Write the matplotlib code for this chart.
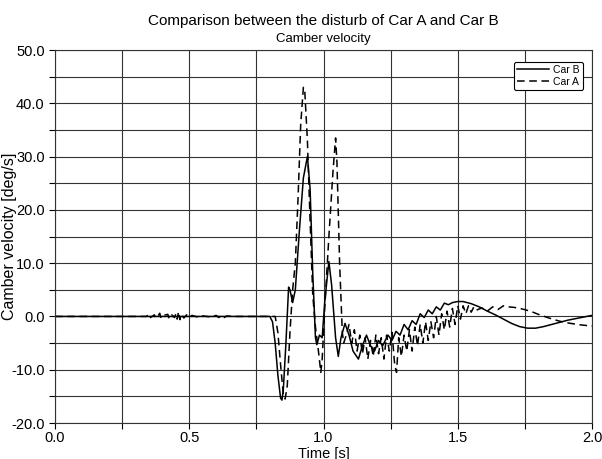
import matplotlib
matplotlib.use("Agg")
import matplotlib.pyplot as plt
from matplotlib.ticker import MultipleLocator, FormatStrFormatter

plt.rcParams["font.family"] = ["Liberation Sans", "DejaVu Sans"]

# Car B (solid)
t_b = [0.0, 0.80, 0.81, 0.82, 0.83, 0.84, 0.845, 0.85, 0.86, 0.87, 0.875, 0.885,
       0.895, 0.91, 0.925, 0.94, 0.95, 0.96, 0.97, 0.975, 0.985, 0.995, 1.005,
       1.02, 1.03, 1.045, 1.055, 1.065, 1.08, 1.095, 1.11, 1.13, 1.145, 1.16,
       1.175, 1.19, 1.205, 1.22, 1.24, 1.255, 1.27, 1.285, 1.30, 1.315, 1.33,
       1.345, 1.36, 1.375, 1.39, 1.405, 1.42, 1.435, 1.45, 1.465, 1.48, 1.50,
       1.52, 1.55, 1.58, 1.61, 1.64, 1.67, 1.70, 1.73, 1.76, 1.79, 1.82, 1.85,
       1.88, 1.91, 1.94, 1.97, 2.0]
v_b = [0.0, 0.0, -1.0, -5.0, -11.0, -15.3, -15.7, -14.0, -5.0, 5.5, 5.0, 2.6,
       5.0, 16.0, 26.0, 30.0, 24.0, 8.0, -4.0, -5.3, -3.5, -4.0, 3.0,
       10.3, 6.0, -4.0, -7.5, -4.0, -1.3, -3.5, -6.5, -8.0, -5.5, -3.5,
       -5.5, -6.5, -4.5, -5.5, -3.5, -4.5, -2.8, -3.5, -1.5, -2.5, -0.8,
       -1.5, 0.5, -0.2, 1.2, 0.5, 1.8, 1.2, 2.5, 2.2, 2.6, 2.8,
       2.8, 2.4, 1.8, 1.0, 0.3, -0.5, -1.3, -1.9, -2.2, -2.2, -1.9, -1.5,
       -1.1, -0.7, -0.4, -0.1, 0.2]

# Car A (dashed)
t_a = [0.0, 0.34, 0.35, 0.355, 0.37, 0.375, 0.385, 0.39, 0.395, 0.405, 0.42,
       0.425, 0.435, 0.445, 0.45, 0.455, 0.46, 0.465, 0.47, 0.48, 0.49, 0.50,
       0.51, 0.53, 0.55, 0.58, 0.60, 0.61, 0.62, 0.63, 0.64, 0.66, 0.82, 0.83,
       0.84, 0.85, 0.857, 0.865, 0.875, 0.885, 0.895, 0.905, 0.915, 0.925,
       0.93, 0.94, 0.95, 0.96, 0.97, 0.98, 0.99, 0.995, 1.005, 1.02, 1.035,
       1.045, 1.05, 1.06, 1.07, 1.075, 1.085, 1.095,
       1.105, 1.115, 1.125, 1.135, 1.145, 1.155, 1.165, 1.175, 1.185, 1.195,
       1.205, 1.215, 1.225, 1.235, 1.245, 1.255, 1.265, 1.272, 1.28, 1.29,
       1.30, 1.31, 1.32, 1.33, 1.34, 1.35, 1.36, 1.37, 1.38, 1.39, 1.40,
       1.41, 1.42, 1.43, 1.44, 1.45, 1.46, 1.47, 1.48, 1.49, 1.50, 1.51,
       1.52, 1.53, 1.54, 1.55, 1.56, 1.57, 1.59, 1.61, 1.63, 1.65, 1.67,
       1.69, 1.71, 1.74, 1.77, 1.80, 1.84, 1.88, 1.92, 1.96, 2.0]
v_a = [0.0, 0.0, 0.4, -0.2, 0.3, -0.3, 0.2, 0.6, -0.3, 0.2, 0.4,
       -0.4, 0.3, -0.2, 0.5, -0.5, 0.9, -0.6, 0.4, -0.3, 0.3, -0.2,
       0.2, -0.1, 0.1, -0.1, 0.2, -0.2, 0.2, -0.2, 0.1, 0.0, 0.0, -3.0,
       -9.0, -14.5, -15.5, -13.0, -3.0, 5.0, 10.0, 22.0, 36.0, 43.0,
       42.5, 33.0, 18.0, 4.0, -2.0, -6.0, -10.5, -8.0, 2.0, 15.0, 27.0,
       33.5, 29.0, 10.0, -3.0, -5.0, -3.5, -1.5,
       -5.0, -2.5, -6.5, -3.5, -7.0, -4.0, -8.0, -4.5, -7.5, -3.5,
       -7.0, -4.0, -8.0, -3.5, -6.5, -3.0, -9.0, -10.5, -4.0, -7.5,
       -3.5, -6.5, -2.5, -6.5, -2.0, -5.5, -1.5, -5.0, -1.0, -4.5, -1.0,
       -4.0, 0.0, -3.5, 0.5, -2.5, 1.0, -2.0, 1.5, -1.5, 2.0, -0.5,
       2.0, 0.5, 2.0, 0.8, 1.8, 1.2, 1.6, 1.0, 1.8, 1.3, 2.0,
       1.8, 1.7, 1.4, 1.0, 0.4, -0.3, -0.9, -1.3, -1.6, -1.8]

fig = plt.figure(figsize=(6.02, 4.59), dpi=100)
ax = fig.add_axes([0.0914, 0.0784, 0.892, 0.8126])

ax.plot(t_b, v_b, color="black", lw=1.1, label="Car B")
ax.plot(t_a, v_a, color="black", lw=1.1, linestyle=(0, (5, 3)), label="Car A")

ax.set_xlim(0, 2)
ax.set_ylim(-20, 50)
ax.xaxis.set_major_locator(MultipleLocator(0.5))
ax.xaxis.set_minor_locator(MultipleLocator(0.25))
ax.yaxis.set_major_locator(MultipleLocator(10))
ax.yaxis.set_minor_locator(MultipleLocator(5))
ax.xaxis.set_major_formatter(FormatStrFormatter("%.1f"))
ax.yaxis.set_major_formatter(FormatStrFormatter("%.1f"))
ax.grid(which="both", color="#333333", lw=0.8)
ax.tick_params(which="both", direction="out", length=4, width=0.8, labelsize=10.5)
ax.tick_params(axis="x", pad=1.5)
for s in ax.spines.values():
    s.set_color("#333333")
    s.set_linewidth(0.8)

ax.set_xlabel("Time [s]", fontsize=10.5)
ax.xaxis.set_label_coords(0.5, -0.063)
ax.set_ylabel("Camber velocity [deg/s]", fontsize=11.5)
ax.yaxis.set_label_coords(-0.07, 0.5)

fig.text(0.5374, 0.955, "Comparison between the disturb of Car A and Car B",
         ha="center", va="center", fontsize=11)
fig.text(0.5374, 0.916, "Camber velocity", ha="center", va="center", fontsize=9.5)

leg = ax.legend(loc="upper right", bbox_to_anchor=(0.983, 0.968), fontsize=7.5,
                frameon=True, fancybox=True, edgecolor="black",
                handlelength=3.1, borderpad=0.3, labelspacing=0.15,
                handletextpad=0.4, borderaxespad=0.0, framealpha=1)
leg.get_frame().set_linewidth(0.8)

fig.savefig("out.png", dpi=100)
